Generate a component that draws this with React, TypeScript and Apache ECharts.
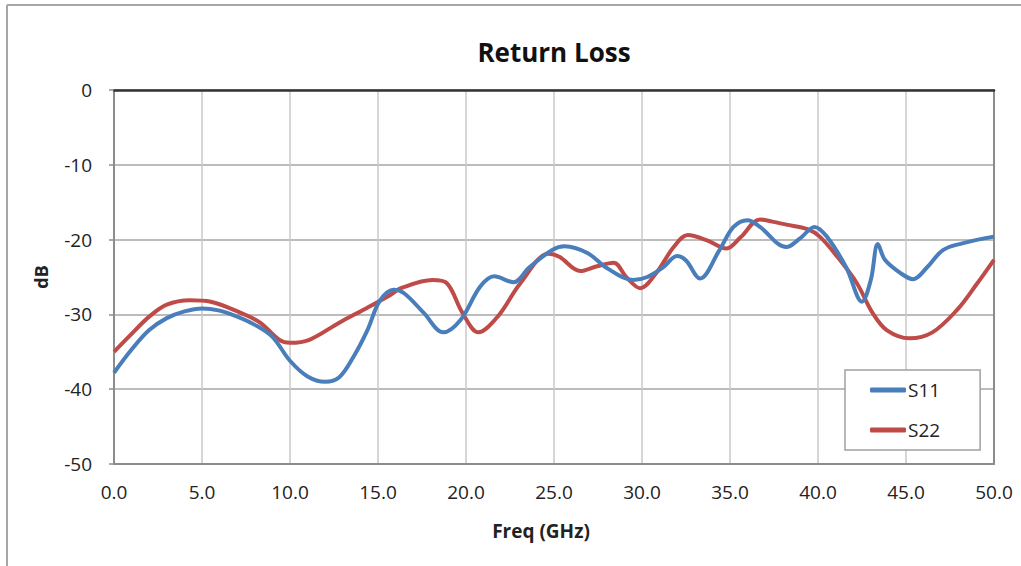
import React, { useEffect, useRef } from "react";
import * as echarts from "echarts";

const s11Freq = [0, 1, 2, 3, 4, 5, 6, 7, 8, 9, 10, 11, 12, 12.8, 13.6, 14.4, 15.1, 15.9, 16.5, 17.6, 18.7, 19.7, 20.8, 21.6, 22.7, 23.6, 24.9, 25.6, 26.9, 28.0, 29.5, 30.3, 31.2, 32.0, 32.5, 33.3, 34.4, 35.2, 36.0, 36.7, 38.2, 39.0, 39.8, 40.5, 41.6, 42.5, 43.0, 43.4, 43.8, 44.7, 45.4, 46.2, 47.1, 48.2, 50];
const s11Val = [-37.8, -34.7, -32.1, -30.5, -29.6, -29.2, -29.5, -30.3, -31.4, -33.0, -36.2, -38.3, -39.0, -38.4, -35.7, -32.1, -28.2, -26.7, -27.2, -29.8, -32.4, -30.7, -26.3, -24.9, -25.7, -23.7, -21.4, -20.9, -21.8, -23.8, -25.4, -25.0, -23.7, -22.2, -22.8, -25.2, -21.4, -18.3, -17.4, -18.3, -21.0, -19.8, -18.3, -19.6, -23.7, -28.3, -25.4, -20.6, -22.7, -24.5, -25.3, -23.7, -21.4, -20.5, -19.6];

const s22Freq = [0, 1, 2, 3, 4.3, 5.5, 7.2, 8.3, 9.4, 10, 11.1, 12.8, 14.4, 15.7, 16.3, 18.1, 18.9, 19.8, 20.7, 21.8, 23.1, 24.7, 25.3, 26.5, 27.4, 28.4, 29.1, 29.9, 30.8, 31.8, 32.6, 33.7, 34.8, 35.6, 36.7, 37.4, 38.2, 39.4, 40.1, 41.1, 42.2, 43.1, 43.9, 45.2, 46.5, 47.9, 49, 50];
const s22Val = [-35.0, -32.6, -30.3, -28.7, -28.1, -28.3, -29.8, -31.1, -33.4, -33.8, -33.4, -31.1, -29.1, -27.4, -26.5, -25.4, -25.8, -29.8, -32.4, -30.3, -25.8, -21.9, -22.3, -24.2, -23.6, -23.1, -25.0, -26.5, -24.5, -21.0, -19.4, -20.1, -21.2, -19.7, -17.3, -17.6, -18.0, -18.6, -19.6, -22.3, -25.8, -29.8, -32.1, -33.2, -32.4, -29.4, -26.0, -22.7];

const seriesNames = ["S11", "S22"];
const seriesColors = ["#4a7ebb", "#be4b48"];

const FONT = "'Open Sans', sans-serif";

export default function App() {
  const ref = useRef<HTMLDivElement>(null);
  useEffect(() => {
    if (!ref.current) return;
    const chart = echarts.init(ref.current, null, { renderer: "svg" });
    const pairs = (xs: number[], ys: number[]) => xs.map((x, i) => [x, ys[i]]);
    chart.setOption({
      animation: false,
      backgroundColor: "#ffffff",
      title: {
        text: "Return Loss",
        left: 549,
        top: 34,
        textAlign: "center",
        textStyle: { fontFamily: FONT, fontWeight: "bold", fontSize: 26, color: "#111" },
      },
      graphic: [
        { type: "line", shape: { x1: 7, y1: 5, x2: 1021, y2: 5 }, style: { stroke: "#a6a6a6", lineWidth: 2 } },
        { type: "line", shape: { x1: 7, y1: 5, x2: 7, y2: 566 }, style: { stroke: "#a6a6a6", lineWidth: 2 } },
      ],
      legend: {
        orient: "vertical",
        left: 845,
        top: 370,
        padding: [10, 40, 10, 25],
        itemGap: 20,
        itemWidth: 36,
        itemHeight: 5,
        icon: "roundRect",
        backgroundColor: "#ffffff",
        borderColor: "#a0a0a0",
        borderWidth: 1.5,
        textStyle: { fontFamily: FONT, fontSize: 19, color: "#222", lineHeight: 20, padding: [0, 0, 0, -3] },
        data: seriesNames,
      },
      grid: { left: 114, right: 27, top: 90, bottom: 102, outerBoundsMode: "none", containLabel: false },
      xAxis: [
        {
          type: "value",
          min: 0,
          max: 50,
          interval: 5,
          position: "bottom",
          name: "Freq (GHz)",
          nameLocation: "middle",
          nameGap: 57,
          nameTextStyle: { fontFamily: FONT, fontWeight: "bold", fontSize: 19, color: "#222", padding: [0, 26, 0, 0] },
          axisLine: { show: true, onZero: false, lineStyle: { color: "#8c8c8c", width: 2 } },
          axisTick: { show: false },
          axisLabel: { fontFamily: FONT, fontSize: 19, color: "#222", margin: 18, formatter: (v: number) => v.toFixed(1) },
          splitLine: { show: true, lineStyle: { color: "#c8c8c8", width: 1.5 } },
        },
        {
          type: "value",
          min: 0,
          max: 50,
          position: "top",
          axisLine: { show: true, onZero: false, lineStyle: { color: "#333333", width: 2.5 } },
          axisTick: { show: false },
          axisLabel: { show: false },
          splitLine: { show: false },
        },
      ],
      yAxis: [
        {
          type: "value",
          min: -50,
          max: 0,
          interval: 10,
          position: "left",
          name: "dB",
          nameLocation: "middle",
          nameGap: 64,
          nameRotate: 90,
          nameTextStyle: { fontFamily: FONT, fontWeight: "bold", fontSize: 18, color: "#222" },
          axisLine: { show: true, onZero: false, lineStyle: { color: "#8c8c8c", width: 2 } },
          axisTick: { show: true, length: 5, lineStyle: { color: "#8c8c8c", width: 1.5 } },
          axisLabel: { fontFamily: FONT, fontSize: 19, color: "#222", margin: 22 },
          splitLine: { show: true, lineStyle: { color: "#a6a6a6", width: 1.5 } },
        },
        {
          type: "value",
          min: -50,
          max: 0,
          position: "right",
          axisLine: { show: true, onZero: false, lineStyle: { color: "#8c8c8c", width: 2 } },
          axisTick: { show: false },
          axisLabel: { show: false },
          splitLine: { show: false },
        },
      ],
      series: [
        {
          name: seriesNames[0],
          type: "line",
          data: pairs(s11Freq, s11Val),
          smooth: 0.35,
          showSymbol: false,
          symbol: "none",
          color: seriesColors[0],
          lineStyle: { width: 4, color: seriesColors[0] },
          z: 3,
        },
        {
          name: seriesNames[1],
          type: "line",
          data: pairs(s22Freq, s22Val),
          smooth: 0.35,
          showSymbol: false,
          symbol: "none",
          color: seriesColors[1],
          lineStyle: { width: 4, color: seriesColors[1] },
          z: 2,
        },
      ],
    });
    return () => chart.dispose();
  }, []);
  return <div ref={ref} style={{ position: "absolute", left: 0, top: 0, width: 1021, height: 566 }} />;
}
